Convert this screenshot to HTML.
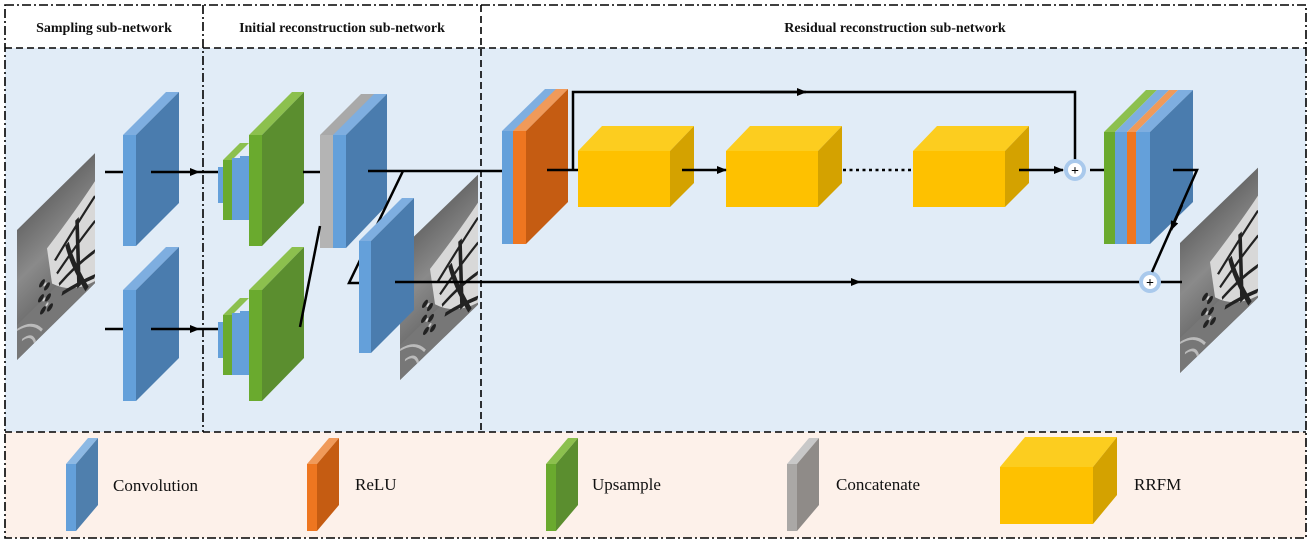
<!DOCTYPE html>
<html><head><meta charset="utf-8"><style>
html,body{margin:0;padding:0;background:#fff;}
svg{display:block;}
text{font-family:"Liberation Serif",serif;}
</style></head><body>
<svg width="1311" height="543" viewBox="0 0 1311 543" xmlns="http://www.w3.org/2000/svg">
<defs>
<marker id="ah" markerWidth="10" markerHeight="8" refX="9" refY="4" orient="auto" markerUnits="userSpaceOnUse">
<path d="M0,0 L10,4 L0,8 z" fill="#000"/></marker>
<linearGradient id="bg" x1="0" y1="0" x2="0" y2="1"><stop offset="0" stop-color="#6a6a6a"/><stop offset="0.4" stop-color="#8a8a8a"/><stop offset="1" stop-color="#5e5e5e"/></linearGradient>
<clipPath id="bc"><rect x="0" y="0" width="78" height="130"/></clipPath>
<g id="bfly">
<rect x="0" y="0" width="78" height="130" fill="url(#bg)"/>
<g clip-path="url(#bc)">
<rect x="0" y="95" width="78" height="35" fill="#777"/>
<g transform="translate(0,28)">
<path d="M30,20 Q60,10 78,0 L78,100 Q55,90 35,60 Z" fill="#d8d8d8"/>
<path d="M38,40 Q60,25 78,15 M40,55 Q60,45 78,40 M42,68 Q60,65 78,70 M45,80 Q60,85 78,95 M60,20 L62,90 M50,35 Q55,60 70,100" stroke="#222" stroke-width="3.5" fill="none"/>
<g fill="#222"><circle cx="25" cy="50" r="3"/><circle cx="30" cy="58" r="3"/><circle cx="24" cy="64" r="3"/><circle cx="31" cy="70" r="3"/><circle cx="26" cy="78" r="3"/><circle cx="33" cy="82" r="3"/></g>
<g fill="#ccc"><circle cx="28" cy="54" r="1.5"/><circle cx="27" cy="68" r="1.5"/><circle cx="30" cy="76" r="1.5"/></g>
</g>
<path d="M0,100 Q15,105 25,125 M5,115 Q15,117 18,130" stroke="#bbb" stroke-width="2" fill="none"/>
</g>
</g>
</defs>

<rect x="0" y="0" width="1311" height="543" fill="#fff"/>
<rect x="5" y="48" width="1301" height="384" fill="#e1ecf7"/>
<rect x="5" y="432" width="1301" height="106" fill="#fdf1ea"/>

<g stroke="#000" stroke-width="1.6" fill="none" stroke-dasharray="9,3,2,3">
<rect x="5" y="5" width="1301" height="533"/>
<line x1="203" y1="5" x2="203" y2="432"/>
</g>
<g stroke="#000" stroke-width="1.6" fill="none" stroke-dasharray="7,4">
<line x1="5" y1="48" x2="1306" y2="48"/>
<line x1="5" y1="432" x2="1306" y2="432"/>
<line x1="481" y1="5" x2="481" y2="432"/>
</g>

<g font-weight="bold" font-size="14" text-anchor="middle" fill="#111">
<text x="104" y="32">Sampling sub-network</text>
<text x="342" y="32">Initial reconstruction sub-network</text>
<text x="895" y="32">Residual reconstruction sub-network</text>
</g>

<use href="#bfly" transform="translate(17,230) skewY(-44.6)"/>
<use href="#bfly" transform="translate(400,250) skewY(-44)"/>
<use href="#bfly" transform="translate(1180,243) skewY(-44)"/>

<g>
<polygon points="123,135 166,92 179,92 136,135" fill="#7eaee0"/>
<polygon points="136,135 179,92 179,203 136,246" fill="#4a7cae"/>
<rect x="123" y="135" width="13" height="111" fill="#64a0da"/>
<polygon points="123,290 166,247 179,247 136,290" fill="#7eaee0"/>
<polygon points="136,290 179,247 179,358 136,401" fill="#4a7cae"/>
<rect x="123" y="290" width="13" height="111" fill="#64a0da"/>
</g>

<g stroke="#000" stroke-width="2.5" fill="none">
<line x1="105" y1="172" x2="123" y2="172"/>
<line x1="151" y1="172" x2="199" y2="172" marker-end="url(#ah)"/>
<line x1="199" y1="172" x2="219" y2="172"/>
<line x1="105" y1="329" x2="123" y2="329"/>
<line x1="151" y1="329" x2="199" y2="329" marker-end="url(#ah)"/>
<line x1="199" y1="329" x2="219" y2="329"/>
</g>

<g id="ig1">
<rect x="218" y="167" width="5" height="36" fill="#64a0da"/>
<polygon points="223,160 240,143 249,143 232,160" fill="#8cc04e"/>
<rect x="223" y="160" width="9" height="60" fill="#6aaa2e"/>
<rect x="232" y="158" width="8" height="62" fill="#64a0da"/>
<rect x="240" y="156" width="9" height="64" fill="#64a0da"/>
<polygon points="249,135 292,92 304,92 262,135" fill="#8cc04e"/>
<polygon points="262,135 304,92 304,203 262,246" fill="#5b8e2f"/>
<rect x="249" y="135" width="13" height="111" fill="#6aaa2e"/>
</g>
<use href="#ig1" transform="translate(0,155)"/>

<polygon points="320,135 361,94 387,94 346,135" fill="#a9a9a9"/>
<polygon points="333,135 374,94 387,94 346,135" fill="#7eaee0"/>
<polygon points="346,135 387,94 387,205 346,248" fill="#4a7cae"/>
<rect x="320" y="135" width="13" height="113" fill="#b4b4b4"/>
<rect x="333" y="135" width="13" height="113" fill="#64a0da"/>

<g stroke="#000" stroke-width="2.5" fill="none">
<line x1="303" y1="172" x2="320" y2="172"/>
<line x1="368" y1="171" x2="503" y2="171"/>
<polyline points="403,171 349,283 361,283"/>
<line x1="300" y1="327" x2="320" y2="226"/>
</g>

<polygon points="359,241 402,198 414,198 371,241" fill="#7eaee0"/>
<polygon points="371,241 414,198 414,310 371,353" fill="#4a7cae"/>
<rect x="359" y="241" width="12" height="112" fill="#64a0da"/>

<g stroke="#000" stroke-width="2.5" fill="none">
<line x1="395" y1="282" x2="860" y2="282" marker-end="url(#ah)"/>
<line x1="860" y1="282" x2="1140" y2="282"/>
<line x1="1160" y1="282" x2="1182" y2="282"/>
</g>

<polygon points="502,131 545,89 557,89 514,131" fill="#7eaee0"/>
<polygon points="513,131 556,89 568,89 526,131" fill="#f09a5a"/>
<polygon points="526,131 568,89 568,202 526,244" fill="#c55c12"/>
<rect x="502" y="131" width="11" height="113" fill="#64a0da"/>
<rect x="513" y="131" width="13" height="113" fill="#ee7620"/>

<g stroke="#000" stroke-width="2.5" fill="none">
<line x1="547" y1="170" x2="578" y2="170"/>
<polyline points="573,170 573,92 1075,92 1075,161"/>
<line x1="760" y1="92" x2="806" y2="92" marker-end="url(#ah)"/>
<line x1="1090" y1="170" x2="1104" y2="170"/>
<line x1="830" y1="170" x2="913" y2="170" stroke-dasharray="3,3.5"/>
</g>

<g id="yb">
<polygon points="578,151 602,126 694,126 670,151" fill="#fccd1f"/>
<polygon points="670,151 694,126 694,183 670,207" fill="#d4a200"/>
<rect x="578" y="151" width="92" height="56" fill="#fec100"/>
</g>
<use href="#yb" transform="translate(148,0)"/>
<use href="#yb" transform="translate(335,0)"/>
<line x1="682" y1="170" x2="726" y2="170" stroke="#000" stroke-width="2.5" marker-end="url(#ah)"/>
<line x1="1019" y1="170" x2="1063" y2="170" stroke="#000" stroke-width="2.5" marker-end="url(#ah)"/>

<g>
<circle cx="1075" cy="170" r="9" fill="#fff" stroke="#a9c9ec" stroke-width="4"/>
<text x="1075" y="175" text-anchor="middle" font-size="14" font-weight="bold" font-family="Liberation Sans,sans-serif">+</text>
<circle cx="1150" cy="282" r="9" fill="#fff" stroke="#a9c9ec" stroke-width="4"/>
<text x="1150" y="287" text-anchor="middle" font-size="14" font-weight="bold" font-family="Liberation Sans,sans-serif">+</text>
</g>

<polygon points="1104,132 1146,90 1157,90 1115,132" fill="#8cc04e"/>
<polygon points="1115,132 1157,90 1169,90 1127,132" fill="#7eaee0"/>
<polygon points="1127,132 1169,90 1178,90 1136,132" fill="#f09a5a"/>
<polygon points="1136,132 1178,90 1193,90 1150,132" fill="#7eaee0"/>
<polygon points="1150,132 1193,90 1193,202 1150,244" fill="#4a7cae"/>
<rect x="1104" y="132" width="11" height="112" fill="#6aaa2e"/>
<rect x="1115" y="132" width="12" height="112" fill="#64a0da"/>
<rect x="1127" y="132" width="9" height="112" fill="#ee7620"/>
<rect x="1136" y="132" width="14" height="112" fill="#64a0da"/>
<g stroke="#000" stroke-width="2.5" fill="none">
<polyline points="1173,170 1197,170 1152,272"/>
<line x1="1182" y1="205" x2="1171" y2="230" marker-end="url(#ah)"/>
</g>

<g>
<polygon points="66,464 88,438 98,438 76,464" fill="#8db9e4"/>
<polygon points="76,464 98,438 98,505 76,531" fill="#4f7fad"/>
<rect x="66" y="464" width="10" height="67" fill="#64a0da"/>
<polygon points="307,464 329,438 339,438 317,464" fill="#f09a5a"/>
<polygon points="317,464 339,438 339,505 317,531" fill="#c55c12"/>
<rect x="307" y="464" width="10" height="67" fill="#ee7620"/>
<polygon points="546,464 568,438 578,438 556,464" fill="#8cc04e"/>
<polygon points="556,464 578,438 578,505 556,531" fill="#5b8e2f"/>
<rect x="546" y="464" width="10" height="67" fill="#6aaa2e"/>
<polygon points="787,464 809,438 819,438 797,464" fill="#c8c8c8"/>
<polygon points="797,464 819,438 819,505 797,531" fill="#8f8b88"/>
<rect x="787" y="464" width="10" height="67" fill="#aaa8a6"/>
<polygon points="1000,467 1025,437 1117,437 1093,467" fill="#fccd1f"/>
<polygon points="1093,467 1117,437 1117,495 1093,524" fill="#d4a200"/>
<rect x="1000" y="467" width="93" height="57" fill="#fec100"/>
</g>
<g font-size="17" fill="#111">
<text x="113" y="491">Convolution</text>
<text x="355" y="490">ReLU</text>
<text x="592" y="490">Upsample</text>
<text x="836" y="490">Concatenate</text>
<text x="1134" y="490">RRFM</text>
</g>
</svg>
</body></html>
